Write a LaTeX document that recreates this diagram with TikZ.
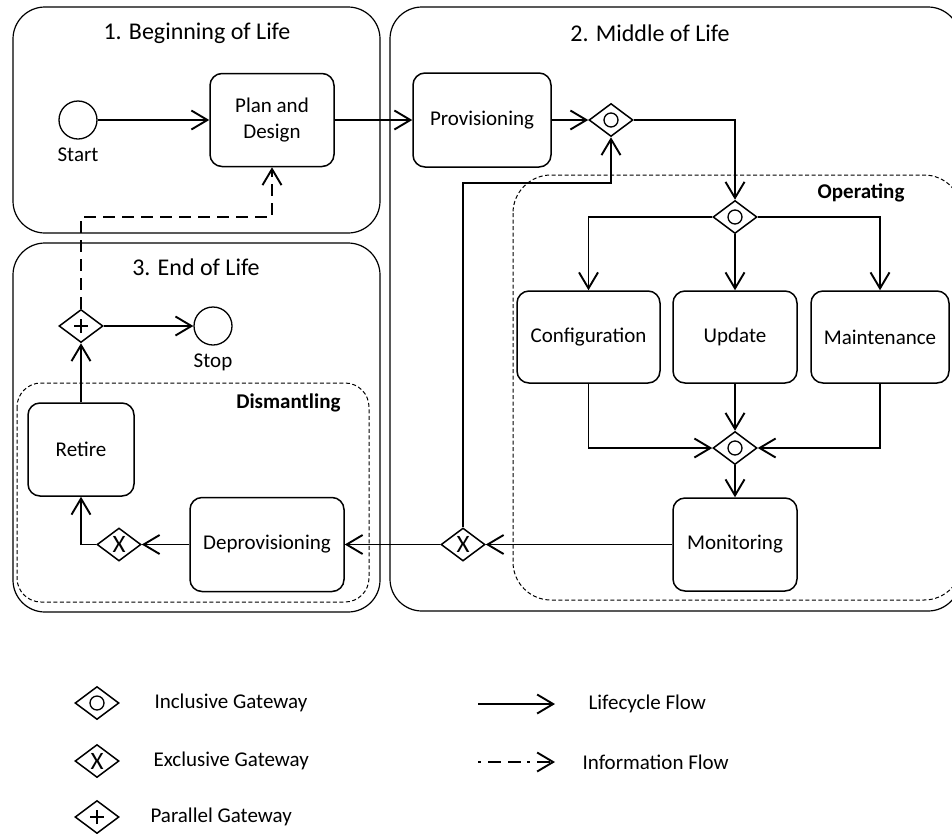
\documentclass[tikz,border=0pt]{standalone}
\usepackage{fontspec}
\setmainfont{Carlito}
\usetikzlibrary{arrows.meta,shapes.geometric,calc}

\begin{document}
\begin{tikzpicture}[x=1pt,y=-1pt,
  every node/.style={font=\fontsize{21}{26}\selectfont},
  phase/.style={draw, line width=1.2, rounded corners=32},
  group/.style={draw, line width=1, dash pattern=on 4 off 2.5, rounded corners=30},
  title/.style={font=\fontsize{24}{28}\selectfont},
  grouptitle/.style={font=\fontsize{21}{24}\selectfont\bfseries, anchor=east},
  task/.style={draw, line width=1.5, rounded corners=12, align=center, inner sep=0},
  event/.style={draw, circle, line width=1.3, minimum size=38, inner sep=0},
  gw/.style={draw, diamond, line width=1.5, minimum width=44, minimum height=33, inner sep=0},
  incl/.style={gw, path picture={\draw[line width=1.3] (path picture bounding box.center) circle[radius=7];}},
  excl/.style={gw, label={[font=\fontsize{25}{25}\selectfont, inner sep=0]center:X}},
  para/.style={gw, path picture={\draw[line width=2]
      ([xshift=-7]path picture bounding box.center) -- ([xshift=7]path picture bounding box.center)
      ([yshift=-7]path picture bounding box.center) -- ([yshift=7]path picture bounding box.center);}},
  flow/.style={line width=1.9, -{Straight Barb[length=16pt, width=19pt]}},
  info/.style={flow, dash pattern=on 12 off 7},
  legend/.style={anchor=west}
]
\clip (0,0) rectangle (952,833);
\fill[white] (0,0) rectangle (952,833);

% lifecycle phases
\draw[phase] (13,7) rectangle (380,233);
\draw[phase] (390,7) rectangle (960,611);
\draw[phase] (13,243) rectangle (380,612);
\node[title] (t1) at (197,33) {1. Beginning of Life};
\node[title] (t2) at (650,33) {2. Middle of Life};
\node[title] (t3) at (196,267) {3. End of Life};

% sub-processes
\draw[group, rounded corners=24] (17,383) rectangle (369,602);
\draw[group, rounded corners=38] (513,175) rectangle (962,600);
\node[grouptitle] (dis) at (344,403) {Dismantling};
\node[grouptitle] (ope) at (908,193) {Operating};

% beginning of life
\node[event, label={[label distance=5]below:Start}] (start) at (78,120) {};
\node[task, minimum width=124, minimum height=93] (plan) at (272,120) {Plan and\\Design};

% middle of life
\node[task, minimum width=138, minimum height=94] (prov) at (482,120) {Provisioning};
\node[incl] (g1) at (611,120) {};
\node[incl] (g2) at (735,217) {};
\node[task, minimum width=143, minimum height=92] (conf) at (588.5,337) {Configuration};
\node[task, minimum width=124, minimum height=92] (upd) at (735,337) {Update};
\node[task, minimum width=138, minimum height=92] (maint) at (880,337) {Maintenance};
\node[incl] (g3) at (735,448) {};
\node[task, minimum width=124, minimum height=93] (mon) at (735,544.5) {Monitoring};
\node[excl] (gx2) at (463,544.5) {};
\coordinate (back) at (0,183);

% end of life
\node[task, minimum width=154, minimum height=94] (deprov) at (267,544.5) {Deprovisioning};
\node[excl] (gx1) at (119,544.5) {};
\node[task, minimum width=106, minimum height=93] (retire) at (81,449.5) {Retire};
\node[para] (gp) at (81,326) {};
\node[event, label={[label distance=5]below:Stop}] (stop) at (213,326) {};
\coordinate (infobend) at (0,217);

% lifecycle flows
\draw[flow] (start) -- (plan);
\draw[flow] (plan) -- (prov);
\draw[flow] (prov) -- (g1.west);
\draw[flow] (g1.east) -| (g2.north);
\draw[flow] (g2.west) -| (conf.north);
\draw[flow] (g2.south) -- (upd.north);
\draw[flow] (g2.east) -| (maint.north);
\draw[flow] (conf.south) |- (g3.west);
\draw[flow] (upd.south) -- (g3.north);
\draw[flow] (maint.south) |- (g3.east);
\draw[flow] (g3.south) -- (mon.north);
\draw[flow] (mon.west) -- (gx2.east);
\draw[flow] (gx2.west) -- (deprov.east);
\draw[flow] (gx2.north) |- (back -| g1.south) -- (g1.south);
\draw[flow] (deprov.west) -- (gx1.east);
\draw[flow] (gx1.west) -| (retire.south);
\draw[flow] (retire.north) -- (gp.south);
\draw[flow] (gp.east) -- (stop.west);

% information flow
\draw[info] (gp.north) |- (infobend -| plan.south) -- (plan.south);

% legend
\node[incl] (li) at (97,703) {};
\node[excl] (lx) at (97,761) {};
\node[para] (lp) at (97,817) {};
\node[legend] (lit) at (151,703) {Inclusive Gateway};
\node[legend] (lxt) at (150,761) {Exclusive Gateway};
\node[legend] (lpt) at (147,817) {Parallel Gateway};
\coordinate (lf1) at (478,704);
\coordinate (lf2) at (555,704);
\coordinate (lif1) at (478,762);
\coordinate (lif2) at (555,762);
\draw[flow] (lf1) -- (lf2);
\draw[info, dash pattern=on 3 off 7 on 13 off 7 on 13 off 6] (lif1) -- (lif2);
\node[legend] (lft) at (585,704) {Lifecycle Flow};
\node[legend] (lift) at (579,762) {Information Flow};
\end{tikzpicture}
\end{document}
